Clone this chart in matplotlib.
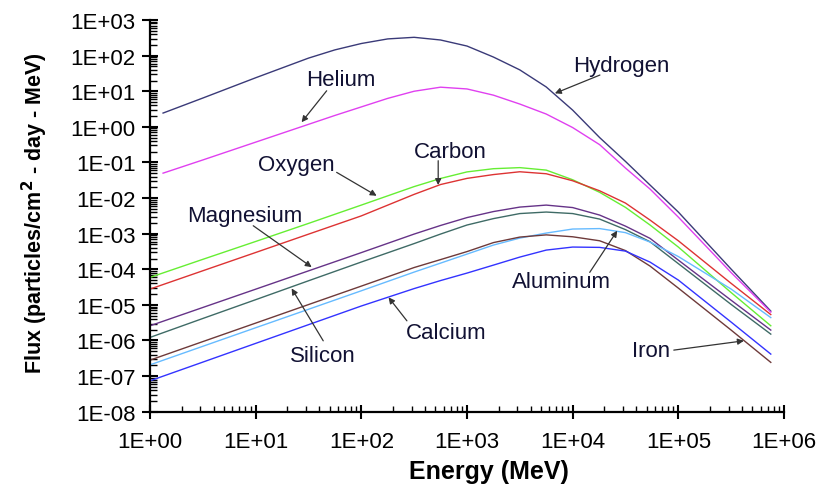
import matplotlib
matplotlib.use("Agg")
import matplotlib.pyplot as plt
from matplotlib.ticker import LogLocator, NullFormatter, FixedLocator

plt.rcParams['font.family'] = ['Liberation Sans', 'DejaVu Sans']

# Energy grids (MeV)
energy_h = [1.33, 3.16, 10, 31.6, 56.2, 100, 178, 316, 562, 1000, 1780, 3160, 5620,
            1e4, 1.8e4, 3.16e4, 5.4e4, 1e5, 3.16e5, 7.5e5]
energy = [1, 3.16, 10, 31.6, 100, 316, 562, 1000, 1780, 3160, 5620,
          1e4, 1.8e4, 3.16e4, 5.4e4, 1e5, 3.16e5, 7.5e5]

# Flux (particles/cm2-day-MeV)
hydrogen = [2.44, 6.44, 23.9, 85.1, 145, 219, 295, 327, 275, 186, 91.2, 39.8, 13.2,
            2.95, 0.500, 0.107, 0.0232, 4.05e-3, 1.01e-4, 6.70e-6]
helium = [0.0501, 0.1175, 0.372, 1.175, 2.09, 3.63, 6.31, 10.0, 13.0, 11.6, 7.76, 4.37, 2.29,
          0.955, 0.316, 0.0697, 0.0179, 2.92e-3, 8.07e-5, 6.28e-6]
oxygen = [5.92e-5, 1.90e-4, 6.04e-4, 1.94e-3, 6.35e-3, 0.0210, 0.0355, 0.0543, 0.0668,
          0.0716, 0.0610, 0.0327, 0.0145, 5.48e-3, 1.75e-3, 4.21e-4, 2.22e-5, 2.59e-6]
carbon = [2.78e-5, 9.08e-5, 2.96e-4, 9.68e-4, 3.16e-3, 0.0127, 0.0240, 0.0357, 0.0457,
          0.0548, 0.0482, 0.0306, 0.0160, 7.24e-3, 2.41e-3, 6.32e-4, 4.02e-5, 5.35e-6]
magnesium = [2.59e-6, 8.45e-6, 2.76e-5, 9.02e-5, 2.94e-4, 9.75e-4, 1.70e-3, 2.83e-3, 4.18e-3,
             5.58e-3, 6.35e-3, 5.41e-3, 3.33e-3, 1.63e-3, 7.38e-4, 1.81e-4, 1.35e-5, 1.96e-6]
silicon = [1.22e-6, 4.15e-6, 1.40e-5, 4.75e-5, 1.60e-4, 5.27e-4, 9.75e-4, 1.75e-3, 2.65e-3,
           3.67e-3, 4.05e-3, 3.67e-3, 2.57e-3, 1.30e-3, 5.92e-4, 1.44e-4, 1.03e-5, 1.51e-6]
aluminum = [2.07e-7, 6.87e-7, 2.28e-6, 7.52e-6, 2.49e-5, 8.34e-5, 1.49e-4, 2.67e-4, 4.79e-4,
            7.52e-4, 1.04e-3, 1.35e-3, 1.39e-3, 1.07e-3, 5.81e-4, 2.28e-4, 2.78e-5, 4.40e-6]
iron = [2.81e-7, 9.31e-7, 3.08e-6, 1.02e-5, 3.37e-5, 1.12e-4, 1.87e-4, 3.14e-4, 5.62e-4,
        8.02e-4, 9.25e-4, 8.18e-4, 6.32e-4, 3.35e-4, 1.23e-4, 2.96e-5, 1.96e-6, 2.43e-7]
calcium = [7.38e-8, 2.47e-7, 8.30e-7, 2.78e-6, 9.31e-6, 2.87e-5, 4.82e-5, 7.82e-5, 1.31e-4,
           2.20e-4, 3.46e-4, 4.21e-4, 4.12e-4, 3.24e-4, 1.59e-4, 4.98e-5, 3.29e-6, 4.15e-7]

series = [
    ("Hydrogen", energy_h, hydrogen, "#3a3a78"),
    ("Helium", energy_h, helium, "#e040f0"),
    ("Oxygen", energy, oxygen, "#66ee33"),
    ("Carbon", energy, carbon, "#dd3333"),
    ("Magnesium", energy, magnesium, "#663388"),
    ("Silicon", energy, silicon, "#3f6b66"),
    ("Aluminum", energy, aluminum, "#66bbff"),
    ("Iron", energy, iron, "#6e3a3a"),
    ("Calcium", energy, calcium, "#3333ff"),
]

# label text position, arrow start, arrow tip (data coords)
labels = {
    "Hydrogen": ((2.9e4, 52), (1.81e4, 28.5), (6790, 8.73)),
    "Helium": ((63.9, 20.7), (47, 10.3), (27.2, 1.35)),
    "Oxygen": ((24.4, 0.0861), (58.4, 0.0527), (139.6, 0.0116)),
    "Carbon": ((689, 0.2), (534, 0.112), (534, 0.0232)),
    "Magnesium": ((7.92, 3.18e-3), (9.49, 1.67e-3), (33.9, 1.15e-4)),
    "Silicon": ((42.9, 3.89e-7), (43.6, 9.8e-7), (21.9, 2.9e-5)),
    "Calcium": ((629, 1.69e-6), (270, 3.57e-6), (181, 1.63e-5)),
    "Aluminum": ((7850, 4.46e-5), (1.45e4, 8.18e-5), (2.64e4, 1.21e-3)),
    "Iron": ((5.56e4, 5.37e-7), (9.06e4, 5.37e-7), (4.17e5, 9.8e-7)),
}

fig = plt.figure(figsize=(8.25, 4.89), dpi=100)
ax = fig.add_axes([0.1818, 0.156, 0.7685, 0.801])

for name, x, y, c in series:
    ax.plot(x, y, color=c, lw=1.0)

ax.set_xscale('log')
ax.set_yscale('log')
ax.set_xlim(1, 1e6)
ax.set_ylim(1e-8, 1e3)

ax.xaxis.set_major_locator(FixedLocator([10.0**k for k in range(0, 7)]))
ax.yaxis.set_major_locator(FixedLocator([10.0**k for k in range(-8, 4)]))
ax.set_xticklabels([f"1E{k:+03d}" for k in range(0, 7)])
ax.set_yticklabels([f"1E{k:+03d}" for k in range(-8, 4)])
ax.xaxis.set_minor_locator(LogLocator(base=10, subs=range(2, 10), numticks=20))
ax.yaxis.set_minor_locator(LogLocator(base=10, subs=range(2, 10), numticks=30))
ax.xaxis.set_minor_formatter(NullFormatter())
ax.yaxis.set_minor_formatter(NullFormatter())

for s in ['top', 'right']:
    ax.spines[s].set_visible(False)
for s in ['left', 'bottom']:
    ax.spines[s].set_linewidth(1.6)

ax.tick_params(axis='y', which='major', direction='inout', length=11, width=1.5,
               labelsize=16, pad=5)
ax.tick_params(axis='x', which='major', direction='inout', length=9.5, width=1.5,
               labelsize=16, pad=9)
ax.tick_params(axis='y', which='minor', direction='in', length=5, width=1.0)
ax.tick_params(axis='x', which='minor', direction='in', length=4.5, width=1.0)

ax.set_xlabel("Energy (MeV)", fontsize=18, fontweight='bold')
ax.xaxis.set_label_coords(0.535, -0.12)
ax.set_ylabel("Flux (particles/cm$^\\mathbf{2}$ - day - MeV)", fontsize=15.5,
              fontweight='bold')
ax.yaxis.set_label_coords(-0.158, 0.51)

for name, (txt, start, tip) in labels.items():
    ax.text(txt[0], txt[1], name, fontsize=16, ha='center', va='center',
            color='#111133')
    ax.annotate('', xy=tip, xytext=start,
                arrowprops=dict(arrowstyle='-|>', color='#333333', lw=0.9,
                                mutation_scale=9, shrinkA=0, shrinkB=0))

fig.savefig('out.png', dpi=100)
